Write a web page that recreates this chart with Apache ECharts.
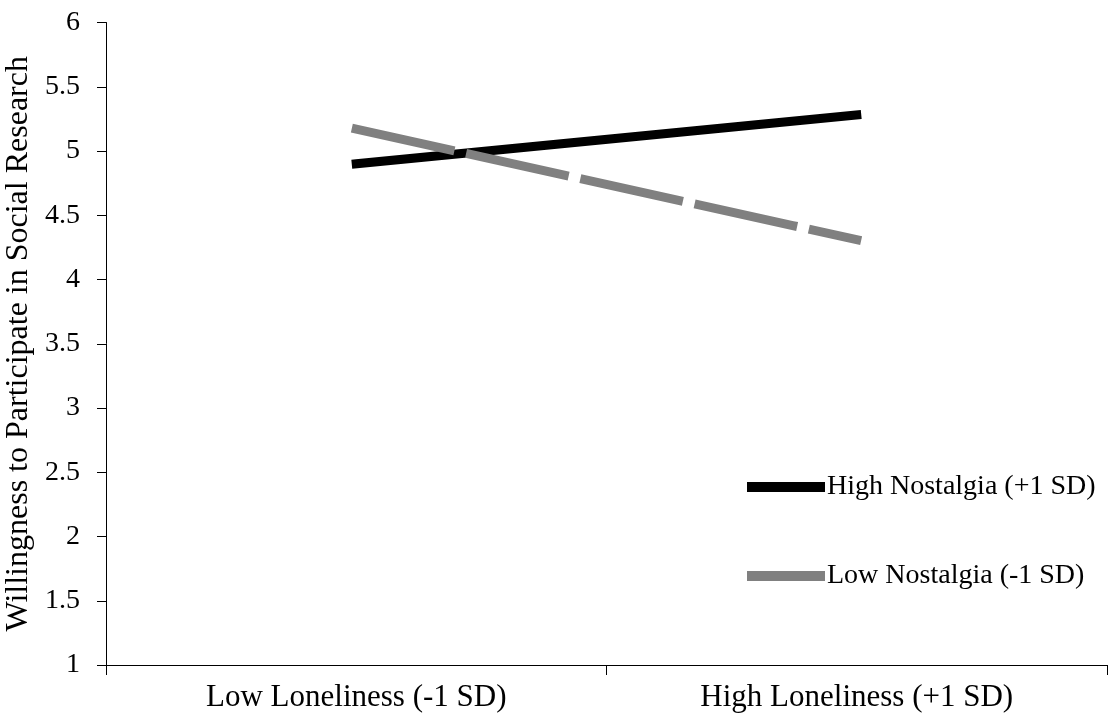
<!DOCTYPE html>
<html>
<head>
<meta charset="utf-8">
<script src="https://cdn.jsdelivr.net/npm/echarts@6/dist/echarts.min.js"></script>
<style>
html,body{margin:0;padding:0;background:#fff;}
#chart{width:1113px;height:721px;}
</style>
</head>
<body>
<div id="chart"></div>
<script>
const categories = ['Low Loneliness (-1 SD)', 'High Loneliness (+1 SD)'];
const highNostalgia = [4.90, 5.28];
const lowNostalgia = [5.17, 4.31];
const seriesNames = ['High Nostalgia (+1 SD)', 'Low Nostalgia (-1 SD)'];
const yAxisTitle = 'Willingness to Participate in Social Research';

const FONT = '"Liberation Serif", "Times New Roman", serif';
const chart = echarts.init(document.getElementById('chart'), null, {renderer: 'canvas'});
chart.setOption({
  animation: false,
  backgroundColor: '#ffffff',
  grid: {left: 106, right: 6, top: 22.5, bottom: 56, containLabel: false, outerBoundsMode: 'none'},
  xAxis: {
    type: 'category',
    data: categories,
    boundaryGap: true,
    axisLine: {lineStyle: {color: '#000', width: 1}},
    axisTick: {show: true, length: 10, lineStyle: {color: '#000'}},
    axisLabel: {fontFamily: FONT, fontSize: 31, color: '#000', margin: 17}
  },
  yAxis: {
    type: 'value',
    min: 1, max: 6, interval: 0.5,
    name: yAxisTitle,
    nameLocation: 'middle',
    nameGap: 62,
    nameTextStyle: {fontFamily: FONT, fontSize: 32, color: '#000'},
    axisLine: {show: true, lineStyle: {color: '#000', width: 1}},
    axisTick: {show: true, length: 9, lineStyle: {color: '#000'}},
    splitLine: {show: false},
    axisLabel: {fontFamily: FONT, fontSize: 28, color: '#000', margin: 26}
  },
  legend: {
    orient: 'vertical',
    left: 742, top: 468,
    itemWidth: 78, itemHeight: 10,
    itemGap: 61,
    icon: 'rect',
    itemStyle: {borderWidth: 0},
    lineStyle: {width: 0},
    textStyle: {fontFamily: FONT, fontSize: 28, color: '#000', padding: [0,0,0,-3]},
    data: seriesNames
  },
  series: [
    {
      name: seriesNames[0], type: 'line', data: highNostalgia,
      showSymbol: false, symbol: 'none',
      color: '#000000',
      itemStyle: {color: '#000000'},
      lineStyle: {color: '#000000', width: 9, cap: 'square'}
    },
    {
      name: seriesNames[1], type: 'line', data: lowNostalgia,
      showSymbol: false, symbol: 'none',
      color: '#808080',
      itemStyle: {color: '#808080'},
      lineStyle: {color: '#808080', width: 9, type: [96, 21], cap: 'square'}
    }
  ]
});
</script>
</body>
</html>
